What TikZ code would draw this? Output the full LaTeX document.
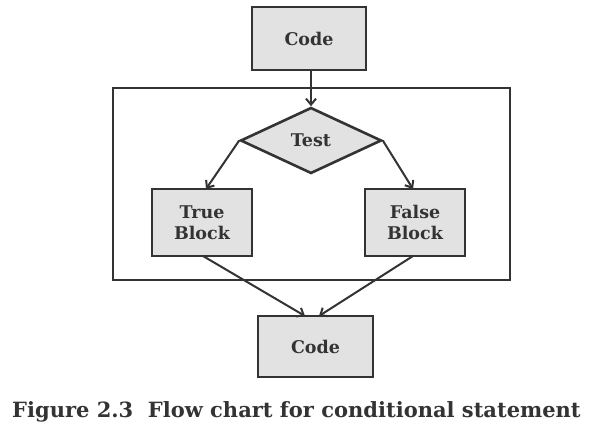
\documentclass[tikz,border=0pt]{standalone}
\usepackage{fontspec}
\setmainfont{DejaVu Serif}
\usetikzlibrary{shapes.geometric,arrows.meta}
\definecolor{boxfill}{HTML}{E2E2E2}
\definecolor{linec}{HTML}{333333}
\begin{document}
\begin{tikzpicture}[x=1pt,y=-1pt,
  procbox/.style={draw=linec,line width=2.6pt,fill=boxfill,minimum width=#1,inner sep=0pt,align=center,font=\bfseries\fontsize{17.5}{21}\selectfont,text=linec},
  decbox/.style={draw=linec,line width=2.6pt,fill=boxfill,diamond,aspect=2.14,minimum width=141pt,minimum height=66pt,inner sep=0pt,font=\bfseries\fontsize{17.5}{21}\selectfont,text=linec},
  conn/.style={draw=linec,line width=2pt,-{Straight Barb[length=6pt,width=10pt,line width=2pt]}}]
\useasboundingbox (0,0) rectangle (612,444);
\fill[white] (0,0) rectangle (612,444);
\draw[linec,line width=2.6pt] (113,88) rectangle (510,280);
\node[procbox=114pt,minimum height=63pt] (code1) at (309,38.5) {Code};
\node[decbox] (test) at (311,140.5) {Test};
\node[procbox=100pt,minimum height=67pt] (tb) at (202,222.5) {True\\Block};
\node[procbox=100pt,minimum height=67pt] (fb) at (415,222.5) {False\\Block};
\node[procbox=115pt,minimum height=61pt] (code2) at (315.5,346.5) {Code};
\coordinate (tbtop) at (206,189);
\coordinate (fbtop) at (413,189);
\coordinate (tbbot) at (203,256);
\coordinate (fbbot) at (413,256);
\coordinate (c2a) at (305,316);
\coordinate (c2b) at (319,316);
\draw[conn] (code1.south -| test.north) -- (test.north);
\draw[conn] (test.west) -- (tbtop);
\draw[conn] (test.east) -- (fbtop);
\draw[conn] (tbbot) -- (c2a);
\draw[conn] (fbbot) -- (c2b);
\node[anchor=west,inner sep=0pt,font=\bfseries\fontsize{21}{24}\selectfont,text=linec] (cap) at (12,412) {Figure 2.3\ \ Flow chart for conditional statement};
\end{tikzpicture}
\end{document}
